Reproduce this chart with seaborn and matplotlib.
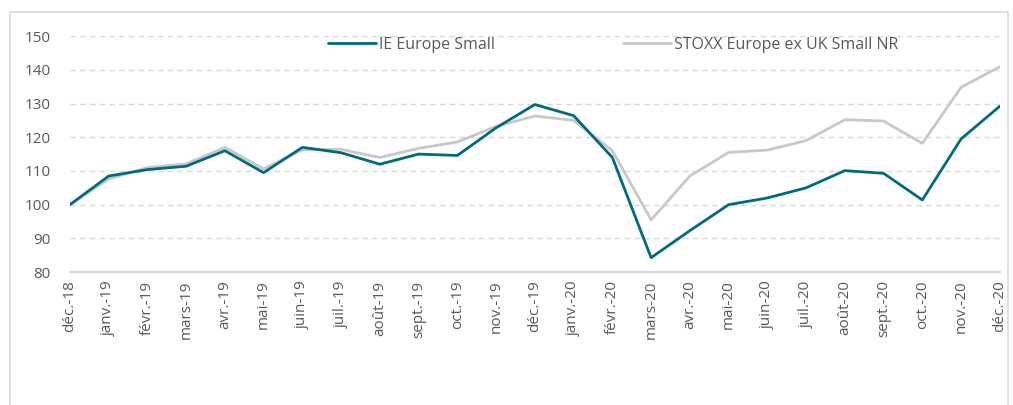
import pandas as pd
import numpy as np
import matplotlib.pyplot as plt
import seaborn as sns
from matplotlib.patches import Rectangle

# === Données ================================================================
mois = ["déc.-18", "janv.-19", "févr.-19", "mars-19", "avr.-19", "mai-19", "juin-19",
        "juil.-19", "août-19", "sept.-19", "oct.-19", "nov.-19", "déc.-19", "janv.-20",
        "févr.-20", "mars-20", "avr.-20", "mai-20", "juin-20", "juil.-20", "août-20",
        "sept.-20", "oct.-20", "nov.-20", "déc.-20"]
ie_europe_small = [100, 108.5, 110.4, 111.4, 116, 109.5, 117, 115.4, 112, 115, 114.6,
                   122.8, 129.7, 126.4, 114, 84.3, 92.3, 100, 102, 105, 110.1, 109.3,
                   101.4, 119.5, 129.2]
stoxx_small = [100, 107.6, 111, 112.1, 117, 110.6, 116.3, 116.4, 114, 116.7, 118.6,
               123.2, 126.3, 125, 116, 95.5, 108.5, 115.5, 116.2, 119, 125.2, 124.8,
               118.2, 134.8, 140.9]
series = ["IE Europe Small", "STOXX Europe ex UK Small NR"]

df = pd.DataFrame({
    "idx": list(range(len(mois))) * 2,
    "valeur": ie_europe_small + stoxx_small,
    "serie": [series[0]] * len(mois) + [series[1]] * len(mois),
})

# === Style ==================================================================
sns.set_style("white")
plt.rcParams["font.family"] = ["Open Sans", "DejaVu Sans"]
gris_txt = "#595959"

fig = plt.figure(figsize=(10.13, 4.05), dpi=100)
ax = fig.add_axes([0.069, 0.328, 0.918, 0.583])

# cadre extérieur
fig.patches.append(Rectangle((0.010, -0.05), 0.985, 1.02, transform=fig.transFigure,
                             fill=False, edgecolor="#d9d9d9", linewidth=1.2))

sns.lineplot(data=df, x="idx", y="valeur", hue="serie", hue_order=series,
             palette=["#006b7f", "#c8c8c8"], linewidth=2.0, ax=ax, zorder=3)
# la série teal passe au-dessus de la grise
ax.lines[0].set_zorder(4)

ax.set_xlim(0, len(mois) - 1)
ax.set_ylim(80, 150)
ax.set_yticks(np.arange(80, 151, 10))
ax.set_xticks(range(len(mois)))
ax.set_xticklabels(mois, rotation=90)
ax.tick_params(axis="both", length=0, labelsize=11, colors=gris_txt)
ax.tick_params(axis="y", pad=14)
ax.tick_params(axis="x", pad=6)
ax.set_xlabel("")
ax.set_ylabel("")

for y in range(90, 151, 10):
    ax.axhline(y, color="#d9d9d9", linestyle=(0, (4, 3)), linewidth=1.0, zorder=1)

for s in ["top", "right", "left"]:
    ax.spines[s].set_visible(False)
ax.spines["bottom"].set_color("#d9d9d9")
ax.spines["bottom"].set_linewidth(1.5)

ax.legend(loc="center", bbox_to_anchor=(0.605, 0.89), bbox_transform=fig.transFigure,
          ncol=2, frameon=False, fontsize=11.5, handlelength=3.0, handletextpad=0.2,
          columnspacing=8.0, labelcolor=gris_txt)

plt.savefig("out.png", dpi=100)
